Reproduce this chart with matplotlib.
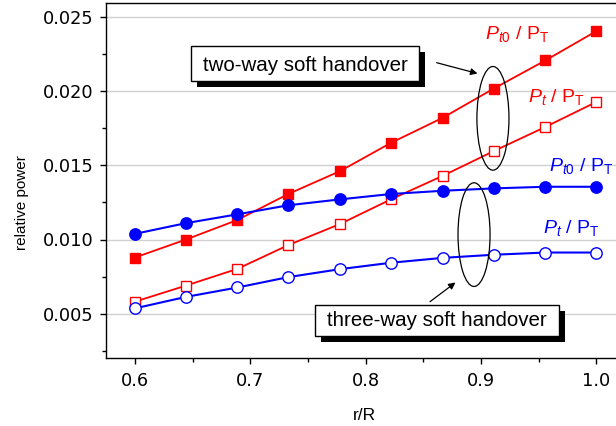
import matplotlib
matplotlib.use('Agg')
import matplotlib.pyplot as plt
from matplotlib.patches import Ellipse, Rectangle, FancyArrowPatch
from matplotlib.ticker import MultipleLocator, FormatStrFormatter

# ---- data ----
r_R = [0.6, 0.644, 0.689, 0.733, 0.778, 0.822, 0.867, 0.911, 0.956, 1.0]
pt0_two_way = [0.00878, 0.00999, 0.01132, 0.01307, 0.01462, 0.01652, 0.01822, 0.02018, 0.02209, 0.02406]
pt_two_way = [0.00580, 0.00688, 0.00802, 0.00962, 0.01105, 0.01271, 0.01430, 0.01596, 0.01760, 0.01928]
pt0_three_way = [0.01038, 0.01110, 0.01170, 0.01231, 0.01271, 0.01307, 0.01329, 0.01345, 0.01356, 0.01356]
pt_three_way = [0.00535, 0.00612, 0.00676, 0.00746, 0.00800, 0.00843, 0.00876, 0.00897, 0.00912, 0.00912]

x_label = "r/R"
y_label = "relative power"
box_two = "two-way soft handover"
box_three = "three-way soft handover"

plt.rcParams['mathtext.fontset'] = 'custom'
plt.rcParams['mathtext.rm'] = 'Liberation Sans'
plt.rcParams['mathtext.it'] = 'Liberation Sans:italic'

W, H = 616, 426
fig = plt.figure(figsize=(W / 100, H / 100), dpi=100)


def fx(x):
    return x / W


def fy(y):
    return 1 - y / H


ax = fig.add_axes([fx(106), fy(358), (625 - 106) / W, (358 - 2.5) / H])
ax.set_xlim(0.575, 1.025)
ax.set_ylim(0.002, 0.026)

ax.grid(axis='y', which='major', color='#d0d0d0', lw=1.0, zorder=0)
ax.set_axisbelow(True)

ax.plot(r_R, pt0_two_way, '-', color='red', lw=1.3, marker='s', ms=7.2,
        mfc='red', mec='red', zorder=3)
ax.plot(r_R, pt_two_way, '-', color='red', lw=1.3, marker='s', ms=7.0,
        mfc='white', mec='red', mew=1.0, zorder=3)
ax.plot(r_R, pt0_three_way, '-', color='blue', lw=1.5, marker='o', ms=8.2,
        mfc='blue', mec='blue', zorder=4)
ax.plot(r_R, pt_three_way, '-', color='blue', lw=1.5, marker='o', ms=8.2,
        mfc='white', mec='blue', mew=1.0, zorder=4)

ax.xaxis.set_major_locator(MultipleLocator(0.1))
ax.xaxis.set_minor_locator(MultipleLocator(0.05))
ax.yaxis.set_major_locator(MultipleLocator(0.005))
ax.yaxis.set_minor_locator(MultipleLocator(0.0025))
ax.xaxis.set_major_formatter(FormatStrFormatter('%.1f'))
ax.yaxis.set_major_formatter(FormatStrFormatter('%.3f'))

ax.tick_params(which='both', direction='out', width=1.0, labelsize=12.8,
               right=False, top=False)
ax.tick_params(which='major', length=4.3)
ax.tick_params(which='minor', length=2.6)
ax.tick_params(axis='x', which='major', pad=5.5)
ax.tick_params(axis='y', which='major', pad=4.8)
for lab in ax.get_xticklabels() + ax.get_yticklabels():
    lab.set_family('DejaVu Sans')

ax.spines['right'].set_visible(False)
for s in ['left', 'bottom', 'top']:
    ax.spines[s].set_linewidth(1.0)

# axis labels
fig.text(fx(22), fy(203), y_label, rotation=90, ha='center', va='center',
         fontsize=11, family='Liberation Sans')
fig.text(fx(364), fy(415), x_label, ha='center', va='center',
         fontsize=12.5, family='Liberation Sans')

# series labels
lab_kw = dict(ha='left', va='baseline', fontsize=14, family='Liberation Sans')
fig.text(fx(485), fy(39), r'$P_{\mathit{t0}}$ / P$_{\mathrm{T}}$', color='red', **lab_kw)
fig.text(fx(528), fy(102), r'$P_{\mathit{t}}$ / P$_{\mathrm{T}}$', color='red', **lab_kw)
fig.text(fx(549), fy(171), r'$P_{\mathit{t0}}$ / P$_{\mathrm{T}}$', color='blue', **lab_kw)
fig.text(fx(543), fy(233), r'$P_{\mathit{t}}$ / P$_{\mathrm{T}}$', color='blue', **lab_kw)

# ellipses (data coordinates)
ax.add_patch(Ellipse((0.9105, 0.01818), 0.0278, 0.0070, fill=False,
                     ec='black', lw=0.9, zorder=6))
ax.add_patch(Ellipse((0.8941, 0.01033), 0.0278, 0.0070, fill=False,
                     ec='black', lw=0.9, zorder=6))


def shadow_box(x0, y0, x1, y1, text, tx, ty):
    sh = Rectangle((fx(x0 + 6), fy(y1 + 6)), (x1 - x0) / W, (y1 - y0) / H,
                   transform=fig.transFigure, fc='black', ec='black', lw=0, zorder=7)
    bx = Rectangle((fx(x0), fy(y1)), (x1 - x0) / W, (y1 - y0) / H,
                   transform=fig.transFigure, fc='white', ec='black', lw=1.0, zorder=8)
    fig.add_artist(sh)
    fig.add_artist(bx)
    t = fig.text(fx(tx), fy(ty), text, ha='center', va='baseline', fontsize=14.8,
                 family='Liberation Sans', zorder=9)
    return t


shadow_box(191, 46, 419, 80.7, box_two, 305, 70.7)
shadow_box(315, 305, 559, 336, box_three, 437, 326)

# arrows
for (x0, y0), (x1, y1) in [((436.7, 62.7), (477.5, 73.5)),
                           ((430, 301.7), (455.5, 282.5))]:
    arr = FancyArrowPatch((fx(x0), fy(y0)), (fx(x1), fy(y1)),
                          transform=fig.transFigure, arrowstyle='-|>',
                          mutation_scale=10, lw=0.9, color='black', zorder=9,
                          shrinkA=0, shrinkB=0)
    fig.add_artist(arr)

fig.savefig('out.png', dpi=100)
